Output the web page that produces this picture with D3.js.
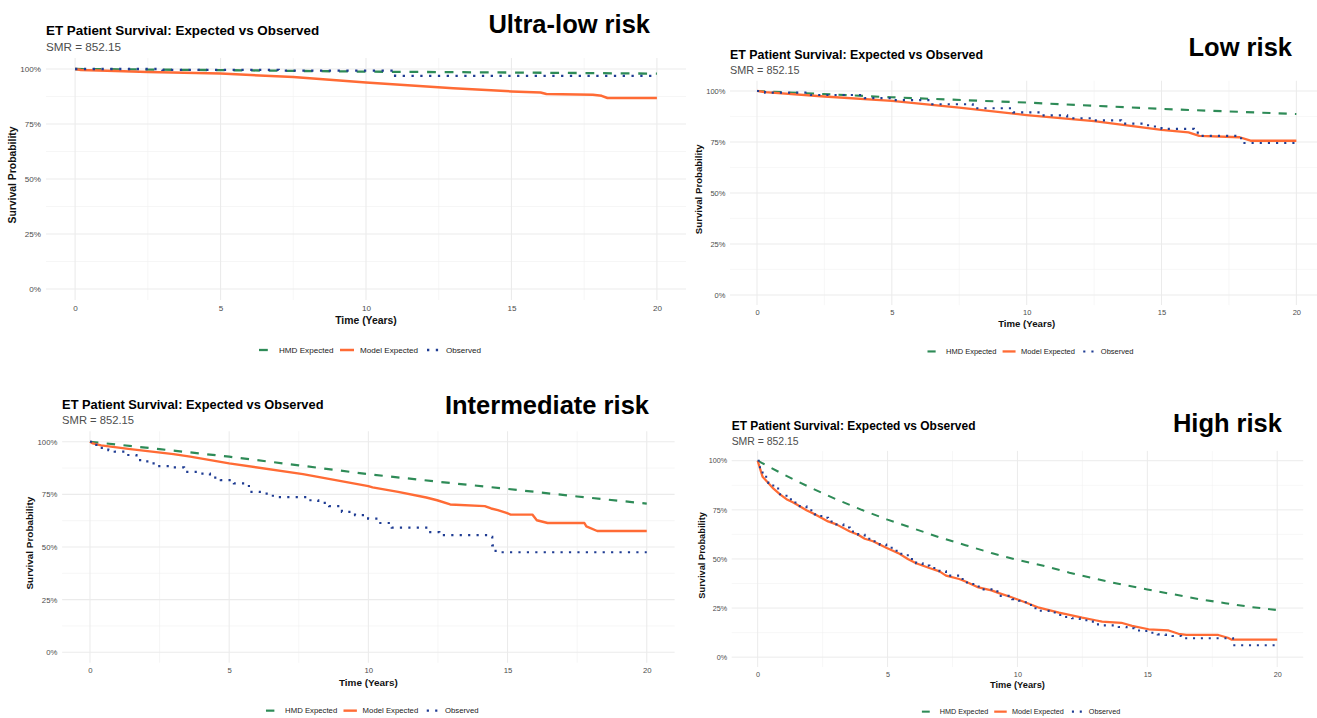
<!DOCTYPE html>
<html>
<head>
<meta charset="utf-8">
<script src="https://cdn.jsdelivr.net/npm/d3@7"></script>
<style>
  html, body { margin: 0; padding: 0; background: #fff; }
  svg { display: block; font-family: "Liberation Sans", Arial, sans-serif; }
</style>
</head>
<body>
<svg id="chart" width="1317" height="718"></svg>
<script>
// ---------------- DATA ----------------
const seriesNames = ["HMD Expected", "Model Expected", "Observed"];
const riskLabels = ["Ultra-low risk", "Low risk", "Intermediate risk", "High risk"];
const chartTitle = "ET Patient Survival: Expected vs Observed";
const chartSubtitle = "SMR = 852.15";
const xTicks = [0, 5, 10, 15, 20];
const yTicks = [0, 0.25, 0.5, 0.75, 1];
const yTickLabels = ["0%", "25%", "50%", "75%", "100%"];

// Ultra-low risk
const ulHmdTime = [0, 5, 10, 15, 20];
const ulHmdSurv = [1, 0.995, 0.988, 0.984, 0.979];
const ulModelTime = [0, 0.2, 1.1, 2.5, 5, 7.5, 10, 13, 15, 16, 16.2, 17.8, 18.1, 18.3, 20];
const ulModelSurv = [1, 0.995, 0.992, 0.986, 0.979, 0.964, 0.939, 0.913, 0.898, 0.893, 0.886, 0.883, 0.878, 0.868, 0.868];
const ulObsTime = [0, 3, 7, 11, 20];
const ulObsSurv = [1, 0.996, 0.993, 0.969, 0.969];

// Low risk
const lowHmdTime = [0, 5, 10, 15, 20];
const lowHmdSurv = [1, 0.969, 0.943, 0.912, 0.887];
const lowModelTime = [0, 0.3, 2.5, 5, 7.5, 10, 12.5, 15, 16, 16.4, 17.9, 18.3, 20];
const lowModelSurv = [1, 0.994, 0.973, 0.951, 0.918, 0.882, 0.852, 0.809, 0.797, 0.780, 0.773, 0.756, 0.756];
const lowObsTime = [0, 0.3, 2, 4, 5, 6.5, 8, 9.5, 10.5, 11.5, 12.5, 13.5, 14.5, 15, 16.2, 16.4, 17.95, 20];
const lowObsSurv = [1, 0.992, 0.98, 0.965, 0.955, 0.935, 0.915, 0.895, 0.88, 0.866, 0.856, 0.84, 0.826, 0.814, 0.796, 0.78, 0.745, 0.745];

// Intermediate risk
const intHmdTime = [0, 2.5, 5, 7.5, 10, 12.5, 15, 17.5, 20];
const intHmdSurv = [1, 0.965, 0.929, 0.888, 0.846, 0.81, 0.776, 0.74, 0.706];
const intModelTime = [0, 0.1, 0.4, 1.45, 3, 3.6, 5, 7.65, 10, 10.15, 11.07, 12.08, 12.47, 12.94, 14.18, 14.41, 14.65, 14.96, 15.11, 15.89, 16.05, 16.44, 17.76, 17.83, 18.22, 20];
const intModelSurv = [1, 0.992, 0.983, 0.965, 0.941, 0.929, 0.897, 0.846, 0.789, 0.783, 0.762, 0.735, 0.722, 0.702, 0.694, 0.683, 0.675, 0.662, 0.654, 0.654, 0.627, 0.614, 0.614, 0.598, 0.576, 0.576];
const intObsTime = [0, 0.13, 0.23, 0.66, 0.89, 1.28, 1.67, 2.06, 2.45, 2.91, 3.38, 3.85, 4.31, 4.7, 5.17, 5.71, 6.1, 6.57, 7.81, 8.2, 8.59, 9.05, 9.52, 9.99, 10.37, 10.84, 12.08, 12.55, 14.34, 14.45, 14.57, 20];
const intObsSurv = [1, 0.985, 0.971, 0.96, 0.953, 0.937, 0.913, 0.897, 0.884, 0.878, 0.857, 0.849, 0.83, 0.818, 0.802, 0.762, 0.754, 0.737, 0.722, 0.71, 0.694, 0.667, 0.651, 0.635, 0.614, 0.592, 0.571, 0.556, 0.548, 0.508, 0.475, 0.475];

// High risk
const highHmdTime = [0, 1, 2, 3, 4, 5, 6, 7, 8, 9, 10, 11, 12, 13, 14, 15, 16, 17, 18, 19, 20];
const highHmdSurv = [1, 0.93, 0.865, 0.805, 0.75, 0.70, 0.655, 0.61, 0.57, 0.53, 0.495, 0.465, 0.43, 0.40, 0.37, 0.345, 0.32, 0.295, 0.275, 0.255, 0.24];
const highModelTime = [0, 0.09, 0.19, 0.41, 0.6, 0.86, 1.11, 1.37, 1.62, 1.88, 2.2, 2.71, 3.03, 3.55, 3.87, 4.12, 4.44, 4.95, 5.46, 5.78, 6.1, 6.61, 7.0, 7.25, 7.76, 8.0, 8.5, 9.0, 9.29, 9.8, 10.32, 10.83, 11.6, 12.49, 13.0, 13.26, 14.0, 14.41, 15.05, 15.82, 16.2, 16.5, 17.73, 18.1, 18.25, 20];
const highModelSurv = [1, 0.961, 0.918, 0.887, 0.859, 0.829, 0.804, 0.787, 0.768, 0.748, 0.727, 0.691, 0.676, 0.64, 0.623, 0.603, 0.59, 0.557, 0.526, 0.50, 0.478, 0.454, 0.437, 0.415, 0.398, 0.385, 0.355, 0.34, 0.326, 0.304, 0.278, 0.252, 0.227, 0.201, 0.188, 0.181, 0.175, 0.159, 0.142, 0.136, 0.119, 0.113, 0.113, 0.099, 0.089, 0.089];
const highObsTime = [0, 0.09, 0.19, 0.41, 0.6, 0.86, 1.11, 1.37, 1.62, 1.88, 2.2, 2.45, 2.71, 3.03, 3.3, 3.55, 3.87, 4.12, 4.44, 4.7, 4.95, 5.2, 5.46, 5.78, 6.1, 6.35, 6.61, 7.0, 7.25, 7.76, 8.0, 8.3, 8.6, 9.0, 9.3, 9.8, 10.06, 10.32, 10.6, 10.85, 11.2, 11.5, 11.8, 12.1, 12.4, 12.7, 13.0, 13.3, 13.9, 14.2, 14.5, 14.8, 15.1, 15.4, 15.7, 15.97, 16.3, 18.3, 20];
const highObsSurv = [1, 0.961, 0.918, 0.887, 0.859, 0.829, 0.804, 0.787, 0.768, 0.748, 0.727, 0.71, 0.691, 0.676, 0.66, 0.64, 0.623, 0.603, 0.59, 0.573, 0.557, 0.542, 0.526, 0.50, 0.478, 0.466, 0.454, 0.437, 0.415, 0.398, 0.38, 0.36, 0.345, 0.335, 0.312, 0.295, 0.287, 0.266, 0.249, 0.236, 0.227, 0.215, 0.205, 0.198, 0.188, 0.181, 0.167, 0.162, 0.154, 0.147, 0.136, 0.133, 0.124, 0.116, 0.113, 0.108, 0.096, 0.061, 0.061];

// ---------------- LAYOUT / STYLE ----------------
const colors = { hmd: "#2E8B57", model: "#FF6B35", obs: "#1F3C93" };
const zip = (t, s) => t.map((d, i) => ({ t: d, s: s[i] }));

const panels = [
  { label: riskLabels[0], tx: 0, ty: 0, k: 1,
    hmd: zip(ulHmdTime, ulHmdSurv), model: zip(ulModelTime, ulModelSurv), obs: zip(ulObsTime, ulObsSurv),
    lx: 650, ly: 33 },
  { label: riskLabels[1], tx: 687.4, ty: 27.0, k: 0.927,
    hmd: zip(lowHmdTime, lowHmdSurv), model: zip(lowModelTime, lowModelSurv), obs: zip(lowObsTime, lowObsSurv),
    lx: 1292, ly: 56 },
  { label: riskLabels[2], tx: 18.1, ty: 375.7, k: 0.957,
    hmd: zip(intHmdTime, intHmdSurv), model: zip(intModelTime, intModelSurv), obs: zip(intObsTime, intObsSurv),
    lx: 649, ly: 414 },
  { label: riskLabels[3], tx: 690.6, ty: 399.1, k: 0.893,
    hmd: zip(highHmdTime, highHmdSurv), model: zip(highModelTime, highModelSurv), obs: zip(highObsTime, highObsSurv),
    lx: 1282, ly: 432 }
];

const svg = d3.select("#chart");

// base panel geometry (panel 1 coordinates)
const P = { left: 46, right: 686, top: 58, bottom: 300 };
const x = d3.scaleLinear().domain([-1, 21]).range([P.left, P.right]);
const y = d3.scaleLinear().domain([-0.05, 1.05]).range([P.bottom, P.top]);

const lineLinear = d3.line().x(d => x(d.t)).y(d => y(d.s)).curve(d3.curveLinear);
const lineStep = d3.line().x(d => x(d.t)).y(d => y(d.s)).curve(d3.curveStepAfter);

panels.forEach((p, idx) => {
  const g = svg.append("g").attr("transform", `translate(${p.tx},${p.ty}) scale(${p.k})`);
  const clipId = "clip" + idx;
  g.append("clipPath").attr("id", clipId).append("rect")
    .attr("x", P.left).attr("y", P.top).attr("width", P.right - P.left).attr("height", P.bottom - P.top);

  // minor grid
  const xMinor = [-1, 2.5, 7.5, 12.5, 17.5];
  const yMinor = [0.125, 0.375, 0.625, 0.875];
  g.append("g").selectAll("line.xm").data(xMinor.filter(d => d > -1)).join("line")
    .attr("x1", d => x(d)).attr("x2", d => x(d)).attr("y1", P.top).attr("y2", P.bottom)
    .attr("stroke", "#F0F0F0").attr("stroke-width", 0.6);
  g.append("g").selectAll("line.ym").data(yMinor).join("line")
    .attr("x1", P.left).attr("x2", P.right).attr("y1", d => y(d)).attr("y2", d => y(d))
    .attr("stroke", "#F0F0F0").attr("stroke-width", 0.6);
  // major grid
  g.append("g").selectAll("line").data(xTicks).join("line")
    .attr("x1", d => x(d)).attr("x2", d => x(d)).attr("y1", P.top).attr("y2", P.bottom)
    .attr("stroke", "#EBEBEB").attr("stroke-width", 1.1);
  g.append("g").selectAll("line").data(yTicks).join("line")
    .attr("x1", P.left).attr("x2", P.right).attr("y1", d => y(d)).attr("y2", d => y(d))
    .attr("stroke", "#EBEBEB").attr("stroke-width", 1.1);

  // axes (labels only)
  const yAxis = d3.axisLeft(y).tickValues(yTicks).tickSize(0).tickPadding(5)
    .tickFormat((d, i) => yTickLabels[i]);
  const ya = g.append("g").attr("transform", `translate(${P.left},0)`).call(yAxis);
  ya.select(".domain").remove();
  ya.selectAll("text").attr("font-size", 8.1).attr("fill", "#4D4D4D").attr("font-family", null);

  const xAxis = d3.axisBottom(x).tickValues(xTicks).tickSize(0).tickPadding(5);
  const xa = g.append("g").attr("transform", `translate(0,${P.bottom})`).call(xAxis);
  xa.select(".domain").remove();
  xa.selectAll("text").attr("font-size", 8.1).attr("fill", "#4D4D4D").attr("font-family", null);

  // axis titles
  g.append("text").attr("x", (x(0) + x(20)) / 2).attr("y", 324)
    .attr("text-anchor", "middle").attr("font-size", 10.4).attr("font-weight", "bold")
    .attr("fill", "#111").text("Time (Years)");
  g.append("text").attr("transform", `translate(16,${(P.top + P.bottom) / 2 - 4}) rotate(-90)`)
    .attr("text-anchor", "middle").attr("font-size", 10.4).attr("font-weight", "bold")
    .attr("fill", "#111").text("Survival Probability");

  // title / subtitle
  g.append("text").attr("x", 46).attr("y", 35).attr("font-size", 13.4).attr("font-weight", "bold")
    .attr("fill", "#000").text(chartTitle);
  g.append("text").attr("x", 46).attr("y", 51).attr("font-size", 11.7)
    .attr("fill", "#4D4D4D").text(chartSubtitle);

  // series
  const lines = g.append("g").attr("clip-path", `url(#${clipId})`);
  lines.append("path").datum(p.hmd).attr("d", lineLinear)
    .attr("fill", "none").attr("stroke", colors.hmd).attr("stroke-width", 2.3)
    .attr("stroke-dasharray", "8.8,8.8");
  lines.append("path").datum(p.model).attr("d", lineLinear)
    .attr("fill", "none").attr("stroke", colors.model).attr("stroke-width", 2.5)
    .attr("stroke-linejoin", "round");
  lines.append("path").datum(p.obs).attr("d", lineStep)
    .attr("fill", "none").attr("stroke", colors.obs).attr("stroke-width", 2.3)
    .attr("stroke-dasharray", "2.3,6.5");

  // legend
  const leg = g.append("g").attr("transform", "translate(0,350)");
  const items = [
    { name: seriesNames[0], x0: 259, tx: 279, color: colors.hmd, dash: "8.8,8.8", w: 2.3 },
    { name: seriesNames[1], x0: 340, tx: 360, color: colors.model, dash: null, w: 2.5 },
    { name: seriesNames[2], x0: 427, tx: 446, color: colors.obs, dash: "2.3,6.5", w: 2.3 }
  ];
  items.forEach(it => {
    leg.append("line").attr("x1", it.x0).attr("x2", it.x0 + 14).attr("y1", 0).attr("y2", 0)
      .attr("stroke", it.color).attr("stroke-width", it.w)
      .attr("stroke-dasharray", it.dash);
    leg.append("text").attr("x", it.tx).attr("y", 0).attr("dy", "0.35em")
      .attr("font-size", 8.1).attr("fill", "#1a1a1a").text(it.name);
  });

  // risk label (absolute)
  svg.append("text").attr("x", p.lx).attr("y", p.ly).attr("text-anchor", "end")
    .attr("font-size", 25.5).attr("font-weight", "bold").attr("fill", "#000").text(p.label);
});
</script>
</body>
</html>
